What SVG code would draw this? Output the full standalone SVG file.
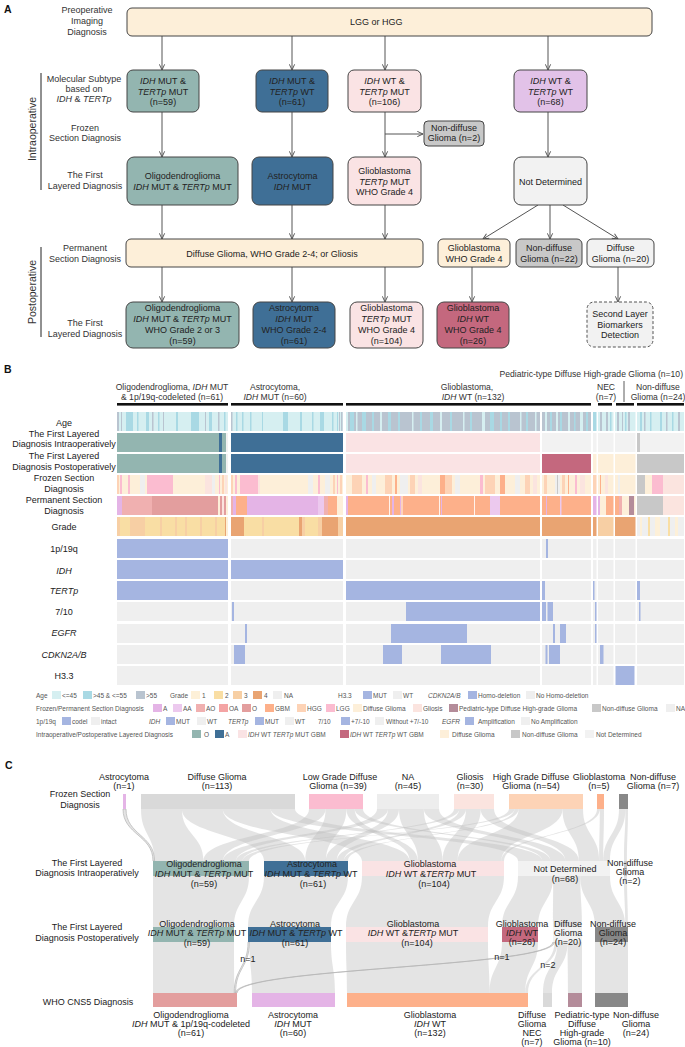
<svg xmlns="http://www.w3.org/2000/svg" width="685" height="1047" viewBox="0 0 685 1047">
<defs>
<style>
text{font-family:"Liberation Sans",Arial,sans-serif;font-size:9px;fill:#222}
.m{text-anchor:middle}
.pl{font-size:10.5px;font-weight:bold;fill:#111}
.lab{fill:#333}
.vl{font-size:10.5px;fill:#333}
.it{font-style:italic}
.bx{stroke:#444;stroke-width:1}
.ar{stroke:#555;stroke-width:1;fill:none;marker-end:url(#ah)}
.hd{font-size:8.6px;fill:#333}
.lg text{font-size:6.5px;fill:#555}
.flow path{fill:#bfbfbf;fill-opacity:0.42}
.flow path.thin{stroke:#b5b5b5;stroke-width:0.7}
.ag1{fill:#d6eff1}.ag2{fill:#a9d9e4}.ag3{fill:#b9c4d0}
.lo{fill:#93b5b0}.la{fill:#3f6f96}.lgb{fill:#fae3e4}.lw{fill:#c4687e}.ld{fill:#fdefd9}.ln{fill:#c8c8c8}.lx{fill:#f2f2f2}
.fA{fill:#e4b4e6}.fAA{fill:#ecc9ee}.fAO{fill:#f0b0b0}.fOA{fill:#f4a4a4}.fO{fill:#e39e9e}.fG{fill:#fdb08a}.fH{fill:#fdd3b6}.fL{fill:#fbbcd0}.fD{fill:#fdefd9}.fS{fill:#fbe4df}.fP{fill:#b48c9a}.fN{fill:#c8c8c8}.fX{fill:#efefef}
.g1{fill:#fdf0d8}.g2{fill:#f9dea4}.g3{fill:#f7cfa4}.g4{fill:#e9a472}.gx{fill:#efefef}
.b{fill:#a5b5e1}.e{fill:#efefef}
</style>
<marker id="ah" viewBox="0 0 8 8" refX="7.5" refY="4" markerWidth="7" markerHeight="7" markerUnits="userSpaceOnUse" orient="auto"><path d="M1,1 L7.5,4 L1,7" fill="none" stroke="#555" stroke-width="1.1"/></marker>
</defs>
<rect width="685" height="1047" fill="#fff"/>

<!-- ================= PANEL A ================= -->
<text class="pl" x="4" y="13">A</text>
<g id="a-left-labels" class="lab">
<text class="m lab" x="87" y="13">Preoperative</text>
<text class="m lab" x="87" y="24">Imaging</text>
<text class="m lab" x="87" y="35">Diagnosis</text>
<text class="m lab" x="84" y="82">Molecular Subtype</text>
<text class="m lab" x="84" y="92">based on</text>
<text class="m lab" x="84" y="102"><tspan class="it">IDH</tspan> &amp; <tspan class="it">TERTp</tspan></text>
<text class="m lab" x="85" y="131">Frozen</text>
<text class="m lab" x="85" y="141">Section Diagnosis</text>
<text class="m lab" x="85" y="178">The First</text>
<text class="m lab" x="85" y="189">Layered Diagnosis</text>
<text class="m lab" x="85" y="251">Permanent</text>
<text class="m lab" x="85" y="262">Section Diagnosis</text>
<text class="m lab" x="85" y="326">The First</text>
<text class="m lab" x="85" y="337">Layered Diagnosis</text>
<text class="m vl" transform="translate(36,129) rotate(-90)">Intraoperative</text>
<text class="m vl" transform="translate(36,292) rotate(-90)">Postoperative</text>
<line x1="41" y1="73" x2="41" y2="190" stroke="#222" stroke-width="1"/>
<line x1="41" y1="247" x2="41" y2="337" stroke="#222" stroke-width="1"/>
</g>

<g id="a-connectors">
<line class="ar" x1="162" y1="36" x2="162" y2="70"/>
<line class="ar" x1="292" y1="36" x2="292" y2="70"/>
<line class="ar" x1="385" y1="36" x2="385" y2="70"/>
<line class="ar" x1="548" y1="36" x2="548" y2="70"/>
<line class="ar" x1="162" y1="112" x2="162" y2="157"/>
<line class="ar" x1="292" y1="112" x2="292" y2="157"/>
<line class="ar" x1="385" y1="112" x2="385" y2="157"/>
<line class="ar" x1="548" y1="112" x2="548" y2="157"/>
<line class="ar" x1="385" y1="134" x2="423" y2="134"/>
<line class="ar" x1="162" y1="205" x2="162" y2="239"/>
<line class="ar" x1="292" y1="205" x2="292" y2="239"/>
<line class="ar" x1="385" y1="205" x2="385" y2="239"/>
<line class="ar" x1="538" y1="205" x2="483" y2="239"/>
<line class="ar" x1="550" y1="205" x2="550" y2="239"/>
<line class="ar" x1="563" y1="205" x2="618" y2="239"/>
<line class="ar" x1="162" y1="267" x2="162" y2="302"/>
<line class="ar" x1="292" y1="267" x2="292" y2="302"/>
<line class="ar" x1="385" y1="267" x2="385" y2="302"/>
<line class="ar" x1="472" y1="267" x2="472" y2="302"/>
<line class="ar" x1="618" y1="267" x2="618" y2="302"/>
</g>

<g id="a-preop"><rect class="bx" x="127" y="8" width="525" height="28" rx="5" fill="#fdefd9"/><text x="350" y="25">LGG or HGG</text></g>

<g id="a-sub1"><rect class="bx" x="127" y="70" width="72" height="42" rx="6" fill="#93b5b0"/>
<text class="m" x="163" y="84"><tspan class="it">IDH</tspan> MUT &amp;</text><text class="m" x="163" y="94.5"><tspan class="it">TERTp</tspan> MUT</text><text class="m" x="163" y="105">(n=59)</text></g>
<g id="a-sub2"><rect class="bx" x="256" y="70" width="72" height="42" rx="6" fill="#3f6f96"/>
<text class="m" x="292" y="84"><tspan class="it">IDH</tspan> MUT &amp;</text><text class="m" x="292" y="94.5"><tspan class="it">TERTp</tspan> WT</text><text class="m" x="292" y="105">(n=61)</text></g>
<g id="a-sub3"><rect class="bx" x="348" y="70" width="73" height="42" rx="6" fill="#fae3e4"/>
<text class="m" x="384.5" y="84"><tspan class="it">IDH</tspan> WT &amp;</text><text class="m" x="384.5" y="94.5"><tspan class="it">TERTp</tspan> MUT</text><text class="m" x="384.5" y="105">(n=106)</text></g>
<g id="a-sub4"><rect class="bx" x="514" y="70" width="73" height="42" rx="6" fill="#e2c2e8"/>
<text class="m" x="550.5" y="84"><tspan class="it">IDH</tspan> WT &amp;</text><text class="m" x="550.5" y="94.5"><tspan class="it">TERTp</tspan> WT</text><text class="m" x="550.5" y="105">(n=68)</text></g>

<g id="a-nondiff2"><rect class="bx" x="424" y="121" width="60" height="25" rx="4" fill="#c8c8c8"/>
<text class="m" x="454" y="131">Non-diffuse</text><text class="m" x="454" y="141">Glioma (n=2)</text></g>

<g id="a-l1-oligo"><rect class="bx" x="127" y="157" width="111" height="48" rx="7" fill="#93b5b0"/>
<text class="m" x="182.5" y="179">Oligodendroglioma</text><text class="m" x="182.5" y="190"><tspan class="it">IDH</tspan> MUT &amp; <tspan class="it">TERTp</tspan> MUT</text></g>
<g id="a-l1-astro"><rect class="bx" x="252" y="157" width="81" height="48" rx="7" fill="#3f6f96"/>
<text class="m" x="292.5" y="179">Astrocytoma</text><text class="m" x="292.5" y="190"><tspan class="it">IDH</tspan> MUT</text></g>
<g id="a-l1-gbm"><rect class="bx" x="348" y="157" width="73" height="48" rx="7" fill="#fae3e4"/>
<text class="m" x="384.5" y="174">Glioblastoma</text><text class="m" x="384.5" y="184.5"><tspan class="it">TERTp</tspan> MUT</text><text class="m" x="384.5" y="195">WHO Grade 4</text></g>
<g id="a-l1-nd"><rect class="bx" x="514" y="157" width="73" height="48" rx="7" fill="#f2f2f2"/>
<text class="m" x="550.5" y="185">Not Determined</text></g>

<g id="a-perm"><rect class="bx" x="126" y="239" width="297" height="28" rx="5" fill="#fdefd9"/>
<text class="m" x="272" y="257">Diffuse Glioma, WHO Grade 2-4; or Gliosis</text></g>
<g id="a-perm-gbm"><rect class="bx" x="438" y="239" width="72" height="28" rx="5" fill="#fdefd9"/>
<text class="m" x="474" y="251">Glioblastoma</text><text class="m" x="474" y="262">WHO Grade 4</text></g>
<g id="a-perm-nondiff"><rect class="bx" x="516" y="239" width="66" height="28" rx="5" fill="#c8c8c8"/>
<text class="m" x="549" y="251">Non-diffuse</text><text class="m" x="549" y="262">Glioma (n=22)</text></g>
<g id="a-perm-diff"><rect class="bx" x="587" y="239" width="67" height="28" rx="5" fill="#f2f2f2"/>
<text class="m" x="620.5" y="251">Diffuse</text><text class="m" x="620.5" y="262">Glioma (n=20)</text></g>

<g id="a-post-oligo"><rect class="bx" x="126" y="302" width="113" height="46" rx="7" fill="#93b5b0"/>
<text class="m" x="182.5" y="311">Oligodendroglioma</text><text class="m" x="182.5" y="322"><tspan class="it">IDH</tspan> MUT &amp; <tspan class="it">TERTp</tspan> MUT</text><text class="m" x="182.5" y="333">WHO Grade 2 or 3</text><text class="m" x="182.5" y="344">(n=59)</text></g>
<g id="a-post-astro"><rect class="bx" x="253" y="302" width="82" height="46" rx="7" fill="#3f6f96"/>
<text class="m" x="294" y="311">Astrocytoma</text><text class="m" x="294" y="322"><tspan class="it">IDH</tspan> MUT</text><text class="m" x="294" y="333">WHO Grade 2-4</text><text class="m" x="294" y="344">(n=61)</text></g>
<g id="a-post-gbm"><rect class="bx" x="350" y="302" width="73" height="46" rx="7" fill="#fae3e4"/>
<text class="m" x="386.5" y="311">Glioblastoma</text><text class="m" x="386.5" y="322"><tspan class="it">TERTp</tspan> MUT</text><text class="m" x="386.5" y="333">WHO Grade 4</text><text class="m" x="386.5" y="344">(n=104)</text></g>
<g id="a-post-gbmwt"><rect class="bx" x="437" y="302" width="72" height="46" rx="7" fill="#c4687e"/>
<text class="m" x="473" y="311">Glioblastoma</text><text class="m" x="473" y="322"><tspan class="it">IDH</tspan> WT</text><text class="m" x="473" y="333">WHO Grade 4</text><text class="m" x="473" y="344">(n=26)</text></g>
<g id="a-second"><rect x="587" y="302" width="66" height="45" rx="7" fill="#f2f2f2" stroke="#555" stroke-dasharray="3,2"/>
<text class="m" x="620" y="317">Second Layer</text><text class="m" x="620" y="328">Biomarkers</text><text class="m" x="620" y="338">Detection</text></g>

<!-- ================= PANEL B ================= -->
<text class="pl" x="4" y="373">B</text>
<g id="b-headers">
<text class="hd" x="683" y="377" text-anchor="end">Pediatric-type Diffuse High-grade Glioma (n=10)</text>
<text class="hd m" x="172" y="390">Oligodendroglioma, <tspan class="it">IDH</tspan> MUT</text>
<text class="hd m" x="172" y="399.5">&amp; 1p/19q-codeleted  (n=61)</text>
<text class="hd m" x="275" y="390">Astrocytoma,</text>
<text class="hd m" x="275" y="399.5"><tspan class="it">IDH</tspan> MUT (n=60)</text>
<text class="hd m" x="467" y="390">Glioblastoma,</text>
<text class="hd m" x="473" y="399.5"><tspan class="it">IDH</tspan> WT (n=132)</text>
<text class="hd m" x="606" y="390">NEC</text>
<text class="hd m" x="606" y="399.5">(n=7)</text>
<text class="hd m" x="658" y="390">Non-diffuse</text>
<text class="hd m" x="658" y="399.5">Glioma (n=24)</text>
<line x1="624" y1="381" x2="624" y2="402" stroke="#333" stroke-width="0.8"/>
<g fill="#111">
<rect x="117" y="403" width="111" height="2.6"/><rect x="231" y="403" width="112" height="2.6"/><rect x="346" y="403" width="245" height="2.6"/><rect x="598" y="403" width="14" height="2.6"/><rect x="616" y="403" width="18" height="2.6"/><rect x="637" y="403" width="47" height="2.6"/>
</g>
</g>

<g id="b-rowlabels">
<text class="m" x="64" y="426">Age</text>
<text class="m" x="64" y="437">The First Layered</text>
<text class="m" x="64" y="447">Diagnosis Intraoperatively</text>
<text class="m" x="64" y="458.5">The First Layered</text>
<text class="m" x="64" y="469.5">Diagnosis Postoperatively</text>
<text class="m" x="64" y="481">Frozen Section</text>
<text class="m" x="64" y="492">Diagnosis</text>
<text class="m" x="64" y="502.5">Permanent Section</text>
<text class="m" x="64" y="513.5">Diagnosis</text>
<text class="m" x="64" y="530">Grade</text>
<text class="m" x="64" y="552">1p/19q</text>
<text class="m it" x="64" y="574">IDH</text>
<text class="m it" x="64" y="593.5">TERTp</text>
<text class="m" x="64" y="614.5">7/10</text>
<text class="m it" x="64" y="635.5">EGFR</text>
<text class="m it" x="64" y="657.5">CDKN2A/B</text>
<text class="m" x="64" y="678.5">H3.3</text>
</g>

<g id="b-heatmap">
<!-- Age -->
<g transform="translate(0,412)">
<rect class="ag1" x="117" width="111" height="19"/><rect class="ag1" x="231" width="112" height="19"/><rect class="ag3" x="346" width="194" height="19"/><rect class="ag3" x="542" width="49" height="19"/><rect class="ag2" x="593" width="3.5" height="19"/><rect class="ag1" x="598" width="15.5" height="19"/><rect class="ag1" x="615" width="20.5" height="19"/><rect class="ag1" x="637" width="47" height="19"/>
<g class="ag3"><rect x="117" width="2" height="19"/><rect x="121" width="1" height="19"/><rect x="152" width="1.5" height="19"/><rect x="163" width="1" height="19"/><rect x="205" width="1" height="19"/><rect x="218" width="1.5" height="19"/><rect x="231" width="1.5" height="19"/><rect x="339" width="1" height="19"/><rect x="341" width="1.5" height="19"/><rect x="600" width="2" height="19"/><rect x="606" width="2" height="19"/><rect x="617" width="2" height="19"/><rect x="622" width="1" height="19"/><rect x="628" width="2" height="19"/><rect x="644" width="1.5" height="19"/><rect x="666" width="1.5" height="19"/><rect x="678" width="2" height="19"/></g>
<g class="ag2"><rect x="126" width="7" height="19"/><rect x="137" width="1.5" height="19"/><rect x="146" width="3" height="19"/><rect x="158" width="1.5" height="19"/><rect x="176" width="2" height="19"/><rect x="191" width="8" height="19"/><rect x="209" width="3" height="19"/><rect x="224" width="1.5" height="19"/><rect x="236" width="1.5" height="19"/><rect x="242" width="1.5" height="19"/><rect x="250" width="1.5" height="19"/><rect x="262" width="1" height="19"/><rect x="283" width="5" height="19"/><rect x="300" width="2" height="19"/><rect x="312" width="1.5" height="19"/><rect x="320" width="4" height="19"/><rect x="332" width="1.5" height="19"/><rect x="337" width="1" height="19"/><rect x="350" width="4" height="19"/><rect x="362" width="4" height="19"/><rect x="372" width="2" height="19"/><rect x="388" width="3" height="19"/><rect x="398" width="2" height="19"/><rect x="420" width="2" height="19"/><rect x="430" width="3" height="19"/><rect x="450" width="2" height="19"/><rect x="470" width="2" height="19"/><rect x="490" width="4" height="19"/><rect x="500" width="2" height="19"/><rect x="508" width="2" height="19"/><rect x="526" width="2" height="19"/><rect x="550" width="2" height="19"/><rect x="560" width="2" height="19"/><rect x="574" width="1.5" height="19"/><rect x="586" width="2" height="19"/><rect x="610" width="1.5" height="19"/><rect x="625" width="1.5" height="19"/><rect x="640" width="2" height="19"/><rect x="650" width="1.5" height="19"/><rect x="660" width="2" height="19"/><rect x="672" width="1.5" height="19"/></g>
<g class="ag1"><rect x="346" width="2" height="19"/><rect x="356" width="1.5" height="19"/><rect x="380" width="2" height="19"/><rect x="412" width="1.5" height="19"/><rect x="440" width="2" height="19"/><rect x="463" width="1.5" height="19"/><rect x="482" width="3" height="19"/><rect x="520" width="1.5" height="19"/><rect x="535" width="1.5" height="19"/><rect x="545" width="2" height="19"/><rect x="556" width="2" height="19"/><rect x="568" width="2" height="19"/><rect x="580" width="3" height="19"/></g>
</g>
<!-- Intraoperative -->
<g transform="translate(0,433)">
<rect class="lo" x="117" width="102" height="19"/><rect class="la" x="219" width="3" height="19"/><rect class="lo" x="222" width="4" height="19"/><rect class="lx" x="226" width="2" height="19"/>
<rect class="la" x="231" width="112" height="19"/><rect class="lgb" x="346" width="194" height="19"/><rect class="lx" x="542" width="49" height="19"/><rect class="lx" x="593" width="3.5" height="19"/><rect class="lx" x="598" width="15.5" height="19"/><rect class="lx" x="615" width="20.5" height="19"/><rect class="ln" x="637" width="3" height="19"/><rect class="lx" x="640" width="44" height="19"/>
</g>
<!-- Postoperative -->
<g transform="translate(0,454)">
<rect class="lo" x="117" width="102" height="19"/><rect class="la" x="219" width="3" height="19"/><rect class="lo" x="222" width="4" height="19"/><rect class="lx" x="226" width="2" height="19"/>
<rect class="la" x="231" width="112" height="19"/><rect class="lgb" x="346" width="194" height="19"/><rect class="lw" x="542" width="49" height="19"/><rect class="ld" x="593" width="3.5" height="19"/><rect class="ld" x="598" width="15.5" height="19"/><rect class="ld" x="615" width="20.5" height="19"/><rect class="ln" x="637" width="47" height="19"/>
</g>
<!-- Frozen -->
<g transform="translate(0,475)">
<rect class="fD" x="117" width="111" height="19"/><rect class="fD" x="231" width="112" height="19"/><rect class="fD" x="346" width="194" height="19"/><rect class="fD" x="542" width="49" height="19"/><rect class="fH" x="593" width="3.5" height="19"/><rect class="fD" x="598" width="15.5" height="19"/><rect class="fD" x="615" width="20.5" height="19"/>
<rect class="fN" x="637" width="8" height="19"/><rect class="fD" x="645" width="7" height="19"/><rect class="fL" x="652" width="11" height="19"/><rect class="fS" x="663" width="21" height="19"/>
<g class="fH"><rect x="117" width="2" height="19"/><rect x="222" width="2" height="19"/><rect x="231" width="2" height="19"/><rect x="333" width="2" height="19"/><rect x="340" width="2" height="19"/><rect x="352" width="10" height="19"/><rect x="385" width="7" height="19"/><rect x="410" width="5" height="19"/><rect x="445" width="7" height="19"/><rect x="485" width="10" height="19"/><rect x="525" width="5" height="19"/><rect x="544" width="3" height="19"/><rect x="562" width="3" height="19"/></g>
<g class="fL"><rect x="120" width="2" height="19"/><rect x="128" width="2" height="19"/><rect x="147" width="26" height="19"/><rect x="219" width="1" height="19"/><rect x="235" width="2" height="19"/><rect x="240" width="18" height="19"/><rect x="318" width="2" height="19"/><rect x="337" width="1" height="19"/><rect x="366" width="2" height="19"/><rect x="480" width="3" height="19"/><rect x="575" width="2" height="19"/></g>
<g class="fX"><rect x="140" width="5" height="19"/><rect x="212" width="3" height="19"/><rect x="308" width="5" height="19"/><rect x="325" width="5" height="19"/><rect x="372" width="4" height="19"/><rect x="400" width="8" height="19"/><rect x="455" width="5" height="19"/><rect x="515" width="5" height="19"/><rect x="555" width="5" height="19"/><rect x="618" width="2" height="19"/></g>
<g class="fS"><rect x="205" width="7" height="19"/><rect x="225" width="2" height="19"/><rect x="258" width="2" height="19"/><rect x="418" width="4" height="19"/><rect x="533" width="4" height="19"/><rect x="580" width="5" height="19"/><rect x="605" width="3" height="19"/></g>
<g class="fG"><rect x="395" width="2" height="19"/><rect x="440" width="5" height="19"/><rect x="500" width="5" height="19"/><rect x="568" width="1" height="19"/><rect x="600" width="1" height="19"/></g>
<rect class="fN" x="557" width="1" height="19"/>
</g>
<!-- Permanent -->
<g transform="translate(0,496)">
<rect class="fA" x="117" width="5" height="19"/><rect class="fAO" x="122" width="30" height="19"/><rect class="fO" x="152" width="66" height="19"/><rect class="fD" x="218" width="2" height="19"/><rect class="fO" x="220" width="2" height="19"/><rect class="fS" x="222" width="2" height="19"/><rect class="fO" x="224" width="2" height="19"/><rect class="fD" x="226" width="2" height="19"/>
<rect class="fAO" x="231" width="2" height="19"/><rect class="fA" x="233" width="3" height="19"/><rect class="fG" x="236" width="11" height="19"/><rect class="fA" x="247" width="71" height="19"/><rect class="fAA" x="318" width="6" height="19"/><rect class="fAO" x="324" width="4" height="19"/><rect class="fG" x="328" width="9" height="19"/><rect class="fD" x="337" width="6" height="19"/>
<rect class="fG" x="346" width="194" height="19"/><rect class="fA" x="346" width="2" height="19"/><rect class="fA" x="392" width="2" height="19"/><rect class="fA" x="400" width="1" height="19"/><rect class="fA" x="441" width="1" height="19"/><rect class="fAA" x="490" width="10" height="19"/>
<g fill="#fff3ec"><rect x="389" width="1" height="19"/><rect x="401.5" width="1" height="19"/><rect x="439" width="1" height="19"/><rect x="474" width="1" height="19"/></g>
<rect class="fG" x="542" width="49" height="19"/><rect class="fA" x="546" width="1" height="19"/><rect class="fAA" x="560" width="1.5" height="19"/>
<rect class="fA" x="593" width="3.5" height="19"/>
<rect class="fA" x="598" width="2" height="19"/><rect class="fD" x="600" width="6" height="19"/><rect class="fG" x="606" width="7.5" height="19"/>
<rect class="fG" x="615" width="4" height="19"/><rect class="fAO" x="619" width="3" height="19"/><rect class="fD" x="622" width="7" height="19"/><rect class="fP" x="629" width="5" height="19"/><rect class="fD" x="634" width="1.5" height="19"/>
<rect class="fN" x="637" width="26" height="19"/><rect class="fS" x="663" width="21" height="19"/>
</g>
<!-- Grade -->
<g transform="translate(0,517)">
<rect class="g2" x="117" width="111" height="19"/>
<g class="g3"><rect x="117" width="3" height="19"/><rect x="130" width="15" height="19"/><rect x="160" width="2" height="19"/><rect x="175" width="2" height="19"/><rect x="185" width="2" height="19"/><rect x="200" width="2" height="19"/><rect x="215" width="2" height="19"/></g>
<rect class="g4" x="225" width="1" height="19"/><rect class="g1" x="226" width="2" height="19"/>
<rect class="g4" x="231" width="13" height="19"/><rect class="g2" x="244" width="18" height="19"/><rect class="g3" x="262" width="2" height="19"/><rect class="g2" x="264" width="35" height="19"/><rect class="g4" x="299" width="3" height="19"/><rect class="g3" x="302" width="3" height="19"/><rect class="g2" x="305" width="13" height="19"/><rect class="g3" x="318" width="4" height="19"/><rect class="g4" x="322" width="16" height="19"/><rect class="g3" x="338" width="5" height="19"/>
<rect class="g4" x="346" width="194" height="19"/><rect class="g4" x="542" width="49" height="19"/><rect class="g4" x="593" width="3.5" height="19"/><rect class="g3" x="598" width="15.5" height="19"/><rect class="g4" x="615" width="20.5" height="19"/>
<rect class="gx" x="637" width="47" height="19"/><rect class="g1" x="640" width="2" height="19"/><rect class="g2" x="648" width="2" height="19"/><rect class="g1" x="655" width="5" height="19"/><rect class="g2" x="668" width="2" height="19"/><rect class="g1" x="675" width="3" height="19"/>
</g>
<!-- 1p/19q -->
<g transform="translate(0,539)">
<rect class="b" x="117" width="111" height="19"/><rect class="e" x="231" width="112" height="19"/><rect class="e" x="346" width="194" height="19"/><rect class="e" x="542" width="49" height="19"/><rect class="b" x="546" width="2" height="19"/><rect class="e" x="593" width="3.5" height="19"/><rect class="e" x="598" width="15.5" height="19"/><rect class="e" x="615" width="20.5" height="19"/><rect class="e" x="637" width="47" height="19"/>
</g>
<!-- IDH -->
<g transform="translate(0,560)">
<rect class="b" x="117" width="111" height="19"/><rect class="b" x="231" width="112" height="19"/><rect class="e" x="346" width="194" height="19"/><rect class="e" x="542" width="49" height="19"/><rect class="e" x="593" width="3.5" height="19"/><rect class="e" x="598" width="15.5" height="19"/><rect class="e" x="615" width="20.5" height="19"/><rect class="e" x="637" width="47" height="19"/>
</g>
<!-- TERTp -->
<g transform="translate(0,581)">
<rect class="b" x="117" width="111" height="19"/><rect class="e" x="231" width="112" height="19"/><rect class="b" x="346" width="194" height="19"/><rect class="e" x="542" width="49" height="19"/><rect class="b" x="542" width="3" height="19"/><rect class="e" x="593" width="3.5" height="19"/><rect class="b" x="593" width="1.5" height="19"/><rect class="e" x="598" width="15.5" height="19"/><rect class="e" x="615" width="20.5" height="19"/><rect class="e" x="637" width="47" height="19"/><rect class="b" x="637" width="3" height="19"/>
</g>
<!-- 7/10 -->
<g transform="translate(0,602)">
<rect class="e" x="117" width="111" height="19"/><rect class="e" x="231" width="112" height="19"/><rect class="b" x="232" width="2" height="19"/><rect class="e" x="346" width="194" height="19"/><rect class="b" x="406" width="134" height="19"/><rect class="e" x="542" width="49" height="19"/><rect class="b" x="542" width="4" height="19"/><rect class="b" x="547.5" width="5.5" height="19"/><rect class="e" x="593" width="3.5" height="19"/><rect class="b" x="595" width="1.5" height="19"/><rect class="e" x="598" width="15.5" height="19"/><rect class="e" x="615" width="20.5" height="19"/><rect class="e" x="637" width="47" height="19"/><rect class="b" x="639" width="1.5" height="19"/>
</g>
<!-- EGFR -->
<g transform="translate(0,624)">
<rect class="e" x="117" width="111" height="19"/><rect class="e" x="231" width="112" height="19"/><rect class="b" x="245" width="2" height="19"/><rect class="e" x="346" width="194" height="19"/><rect class="b" x="391" width="76" height="19"/><rect class="e" x="542" width="49" height="19"/><rect class="b" x="553" width="2" height="19"/><rect class="b" x="560" width="6" height="19"/><rect class="e" x="593" width="3.5" height="19"/><rect class="b" x="595" width="1.5" height="19"/><rect class="e" x="598" width="15.5" height="19"/><rect class="e" x="615" width="20.5" height="19"/><rect class="e" x="637" width="47" height="19"/>
</g>
<!-- CDKN2A/B -->
<g transform="translate(0,645)">
<rect class="e" x="117" width="111" height="19"/><rect class="e" x="231" width="112" height="19"/><rect class="b" x="234" width="11" height="19"/><rect class="e" x="346" width="194" height="19"/><rect class="b" x="383" width="19" height="19"/><rect class="b" x="441" width="50" height="19"/><rect class="e" x="542" width="49" height="19"/><rect class="b" x="545.5" width="2" height="19"/><rect class="b" x="549" width="11" height="19"/><rect class="e" x="593" width="3.5" height="19"/><rect class="e" x="598" width="15.5" height="19"/><rect class="b" x="600" width="3.5" height="19"/><rect class="e" x="615" width="20.5" height="19"/><rect class="e" x="637" width="47" height="19"/>
</g>
<!-- H3.3 -->
<g transform="translate(0,666)">
<rect class="e" x="117" width="111" height="19"/><rect class="e" x="231" width="112" height="19"/><rect class="e" x="346" width="194" height="19"/><rect class="e" x="542" width="49" height="19"/><rect class="e" x="593" width="3.5" height="19"/><rect class="e" x="598" width="15.5" height="19"/><rect class="b" x="615.5" width="19" height="19"/><rect class="e" x="637" width="47" height="19"/>
</g>
</g>

<g id="b-legend" class="lg">
<!-- row 1 -->
<g transform="translate(0,691)">
<text x="36" y="6.5">Age</text><rect class="ag1" x="52" width="9" height="8"/><text x="62" y="6.5">&lt;=45</text><rect class="ag2" x="83" width="9" height="8"/><text x="93" y="6.5">&gt;45 &amp; &lt;=55</text><rect class="ag3" x="136" width="9" height="8"/><text x="146" y="6.5">&gt;55</text>
<text x="170" y="6.5">Grade</text><rect class="g1" x="191" width="9" height="8"/><text x="202" y="6.5">1</text><rect class="g2" x="214" width="9" height="8"/><text x="225" y="6.5">2</text><rect class="g3" x="233" width="9" height="8"/><text x="244" y="6.5">3</text><rect class="g4" x="253" width="9" height="8"/><text x="264" y="6.5">4</text><rect class="gx" x="273" width="9" height="8"/><text x="284" y="6.5">NA</text>
<text x="338" y="6.5">H3.3</text><rect class="b" x="363" width="9" height="8"/><text x="373" y="6.5">MUT</text><rect class="e" x="393" width="9" height="8"/><text x="403" y="6.5">WT</text>
<text class="it" x="428" y="6.5">CDKN2A/B</text><rect class="b" x="468" width="9" height="8"/><text x="478" y="6.5">Homo-deletion</text><rect class="e" x="526" width="9" height="8"/><text x="536" y="6.5">No Homo-deletion</text>
</g>
<!-- row 2 -->
<g transform="translate(0,704)">
<text x="36" y="6.5">Frozen/Permanent Section Diagnosis</text>
<rect class="fA" x="153" width="9" height="8"/><text x="163" y="6.5">A</text>
<rect class="fAA" x="173" width="9" height="8"/><text x="183" y="6.5">AA</text>
<rect class="fAO" x="196" width="9" height="8"/><text x="206" y="6.5">AO</text>
<rect class="fOA" x="219" width="9" height="8"/><text x="229" y="6.5">OA</text>
<rect class="fO" x="242" width="9" height="8"/><text x="252" y="6.5">O</text>
<rect class="fG" x="265" width="9" height="8"/><text x="275" y="6.5">GBM</text>
<rect class="fH" x="297" width="9" height="8"/><text x="307" y="6.5">HGG</text>
<rect class="fL" x="326" width="9" height="8"/><text x="336" y="6.5">LGG</text>
<rect class="fD" x="353" width="9" height="8"/><text x="363" y="6.5">Diffuse Glioma</text>
<rect class="fS" x="413" width="9" height="8"/><text x="423" y="6.5">Gliosis</text>
<rect class="fP" x="449" width="9" height="8"/><text x="459" y="6.5">Pediatric-type Diffuse High-grade Glioma</text>
<rect class="fN" x="592" width="9" height="8"/><text x="602" y="6.5">Non-diffuse Glioma</text>
<rect class="fX" x="666" width="9" height="8"/><text x="676" y="6.5">NA</text>
</g>
<!-- row 3 -->
<g transform="translate(0,717)">
<text x="36" y="6.5">1p/19q</text><rect class="b" x="62" width="9" height="8"/><text x="72" y="6.5">codel</text><rect class="e" x="91" width="9" height="8"/><text x="101" y="6.5">intact</text>
<text class="it" x="149" y="6.5">IDH</text><rect class="b" x="166" width="9" height="8"/><text x="176" y="6.5">MUT</text><rect class="e" x="197" width="9" height="8"/><text x="207" y="6.5">WT</text>
<text class="it" x="228" y="6.5">TERTp</text><rect class="b" x="255" width="9" height="8"/><text x="265" y="6.5">MUT</text><rect class="e" x="285" width="9" height="8"/><text x="295" y="6.5">WT</text>
<text x="318" y="6.5">7/10</text><rect class="b" x="341" width="9" height="8"/><text x="351" y="6.5">+7/-10</text><rect class="e" x="375" width="9" height="8"/><text x="386" y="6.5">Without +7/-10</text>
<text class="it" x="442" y="6.5">EGFR</text><rect class="b" x="465" width="9" height="8"/><text x="478" y="6.5">Amplification</text><rect class="e" x="521" width="9" height="8"/><text x="531" y="6.5">No Amplification</text>
</g>
<!-- row 4 -->
<g transform="translate(0,730)">
<text x="36" y="6.5">Intraoperative/Postoperative Layered Diagnosis</text>
<rect class="lo" x="192" width="9" height="8"/><text x="204" y="6.5">O</text>
<rect class="la" x="215" width="9" height="8"/><text x="225" y="6.5">A</text>
<rect class="lgb" x="238" width="9" height="8"/><text x="248" y="6.5"><tspan class="it">IDH</tspan> WT <tspan class="it">TERTp</tspan> MUT GBM</text>
<rect class="lw" x="340" width="9" height="8"/><text x="350" y="6.5"><tspan class="it">IDH</tspan> WT <tspan class="it">TERTp</tspan> WT GBM</text>
<rect class="ld" x="440" width="9" height="8"/><text x="452" y="6.5">Diffuse Glioma</text>
<rect class="ln" x="511" width="9" height="8"/><text x="522" y="6.5">Non-diffuse Glioma</text>
<rect class="lx" x="585" width="9" height="8"/><text x="596" y="6.5">Not Determined</text>
</g>
</g>

<!-- ================= PANEL C ================= -->
<text class="pl" x="5" y="769">C</text>
<g id="c-rowlabels">
<text class="m" x="80" y="797">Frozen Section</text>
<text class="m" x="80" y="807.5">Diagnosis</text>
<text class="m" x="87" y="865.5">The First Layered</text>
<text class="m" x="87" y="876">Diagnosis Intraoperatively</text>
<text class="m" x="87" y="930">The First Layered</text>
<text class="m" x="87" y="941">Diagnosis Postoperatively</text>
<text class="m" x="88" y="1005">WHO CNS5 Diagnosis</text>
</g>

<g id="c-flows" class="flow">
<path d="M123,809C123,835 153,835 153,861L154.6,861C154.6,835 126,835 126,809Z" class="thin"/>
<path d="M141,809C141,835 154.6,835 154.6,861L203.4,861C203.4,835 181.9,835 181.9,809Z"/>
<path d="M181.9,809C181.9,835 264,835 264,861L305.3,861C305.3,835 222.8,835 222.8,809Z"/>
<path d="M222.8,809C222.8,835 362,835 362,861L409.8,861C409.8,835 270.5,835 270.5,809Z"/>
<path d="M270.5,809C270.5,835 518,835 518,861L542.4,861C542.4,835 295,835 295,809Z"/>
<path d="M309,809C309,835 203.4,835 203.4,861L223,861C223,835 325.6,835 325.6,809Z"/>
<path d="M325.6,809C325.6,835 305.3,835 305.3,861L326,861C326,835 346.4,835 346.4,809Z"/>
<path d="M346.4,809C346.4,835 409.8,835 409.8,861L418,861C418,835 354.7,835 354.7,809Z"/>
<path d="M354.7,809C354.7,835 542.4,835 542.4,861L550.5,861C550.5,835 363,835 363,809Z"/>
<path d="M377,809C377,835 223,835 223,861L236,861C236,835 388,835 388,809Z"/>
<path d="M388,809C388,835 326,835 326,861L337,861C337,835 399,835 399,809Z"/>
<path d="M399,809C399,835 418,835 418,861L442.6,861C442.6,835 423.8,835 423.8,809Z"/>
<path d="M423.8,809C423.8,835 550.5,835 550.5,861L565.4,861C565.4,835 439,835 439,809Z"/>
<path d="M454,809C454,835 236,835 236,861L242.5,861C242.5,835 459.3,835 459.3,809Z"/>
<path d="M459.3,809C459.3,835 337,835 337,861L343.9,861C343.9,835 466,835 466,809Z"/>
<path d="M466,809C466,835 442.6,835 442.6,861L457.6,861C457.6,835 480.7,835 480.7,809Z"/>
<path d="M480.7,809C480.7,835 565.4,835 565.4,861L578.9,861C578.9,835 494,835 494,809Z"/>
<path d="M509,809C509,835 242.5,835 242.5,861L249,861C249,835 514.5,835 514.5,809Z"/>
<path d="M514.5,809C514.5,835 343.9,835 343.9,861L348,861C348,835 518.6,835 518.6,809Z"/>
<path d="M518.6,809C518.6,835 457.6,835 457.6,861L501.3,861C501.3,835 562.5,835 562.5,809Z"/>
<path d="M562.5,809C562.5,835 578.9,835 578.9,861L599.2,861C599.2,835 583,835 583,809Z"/>
<path d="M597,809C597,835 501.3,835 501.3,861L504,861C504,835 599.8,835 599.8,809Z"/>
<path d="M599.8,809C599.8,835 599.2,835 599.2,861L603.3,861C603.3,835 604,835 604,809Z"/>
<path d="M619,809C619,835 603.3,835 603.3,861L610,861C610,835 625.4,835 625.4,809Z"/>
<path d="M625.4,809C625.4,835 624,835 624,861L627,861C627,835 628,835 628,809Z"/>
<path d="M153,876C153,901.5 153,901.5 153,927L234,927C234,901.5 249,901.5 249,876Z"/>
<path d="M264,876C264,901.5 248,901.5 248,927L331,927C331,901.5 348,901.5 348,876Z"/>
<path d="M362,876C362,901.5 346,901.5 346,927L488,927C488,901.5 504,901.5 504,876Z"/>
<path d="M518,876C518,901.5 502,901.5 502,927L538,927C538,901.5 553.2,901.5 553.2,876Z"/>
<path d="M553.2,876C553.2,901.5 553,901.5 553,927L582,927C582,901.5 580.3,901.5 580.3,876Z"/>
<path d="M580.3,876C580.3,901.5 595,901.5 595,927L625.3,927C625.3,901.5 610,901.5 610,876Z"/>
<path d="M624,876C624,901.5 625.3,901.5 625.3,927L628,927C628,901.5 627,901.5 627,876Z"/>
<path d="M153,942C153,967.5 153,967.5 153,993L234.2,993C234.2,967.5 234,967.5 234,942Z"/>
<path d="M248,942C248,967.5 234.2,967.5 234.2,993L235.6,993C235.6,967.5 249.4,967.5 249.4,942Z" class="thin"/>
<path d="M249.4,942C249.4,967.5 252,967.5 252,993L335,993C335,967.5 331,967.5 331,942Z"/>
<path d="M346,942C346,967.5 347,967.5 347,993L489.6,993C489.6,967.5 488,967.5 488,942Z"/>
<path d="M502,942C502,967.5 489.6,967.5 489.6,993L525.3,993C525.3,967.5 538,967.5 538,942Z"/>
<path d="M553,942C553,967.5 235.6,967.5 235.6,993L237,993C237,967.5 554.5,967.5 554.5,942Z" class="thin"/>
<path d="M554.5,942C554.5,967.5 525.3,967.5 525.3,993L528,993C528,967.5 557.4,967.5 557.4,942Z"/>
<path d="M557.4,942C557.4,967.5 543,967.5 543,993L552,993C552,967.5 567.6,967.5 567.6,942Z"/>
<path d="M567.6,942C567.6,967.5 568,967.5 568,993L582,993C582,967.5 582,967.5 582,942Z"/>
<path d="M595,942C595,967.5 595,967.5 595,993L628,993C628,967.5 628,967.5 628,942Z"/>
</g>

<!-- row 1 nodes -->
<g id="c-fz-astro"><rect x="123" y="794" width="3" height="15" fill="#e4b4e6"/><text class="m" x="124" y="780">Astrocytoma</text><text class="m" x="124" y="789">(n=1)</text></g>
<g id="c-fz-diffuse"><rect x="141" y="794" width="154" height="15" fill="#d9d9d9"/><text class="m" x="217" y="780">Diffuse Glioma</text><text class="m" x="217" y="789">(n=113)</text></g>
<g id="c-fz-lgg"><rect x="309" y="794" width="54" height="15" fill="#fbbcd0"/><text class="m" x="340" y="780">Low Grade Diffuse</text><text class="m" x="338" y="789">Glioma (n=39)</text></g>
<g id="c-fz-na"><rect x="377" y="794" width="62" height="15" fill="#ededed"/><text class="m" x="408" y="780">NA</text><text class="m" x="408" y="789">(n=45)</text></g>
<g id="c-fz-gliosis"><rect x="454" y="794" width="40" height="15" fill="#fbe4df"/><text class="m" x="470" y="780">Gliosis</text><text class="m" x="470" y="789">(n=30)</text></g>
<g id="c-fz-hgg"><rect x="509" y="794" width="74" height="15" fill="#fdd3b6"/><text class="m" x="531" y="780">High Grade Diffuse</text><text class="m" x="531" y="789">Glioma (n=54)</text></g>
<g id="c-fz-gbm"><rect x="597" y="794" width="7" height="15" fill="#fdb08a"/><text class="m" x="599" y="780">Glioblastoma</text><text class="m" x="599" y="789">(n=5)</text></g>
<g id="c-fz-nondiff"><rect x="619" y="794" width="9" height="15" fill="#888"/><text class="m" x="653" y="780">Non-diffuse</text><text class="m" x="653" y="789">Glioma (n=7)</text></g>

<!-- row 2 nodes -->
<g id="c-in-oligo"><rect x="153" y="861" width="96" height="15" fill="#93b5b0"/><text class="m" x="204" y="867">Oligodendroglioma</text><text class="m" x="204" y="876.5"><tspan class="it">IDH</tspan> MUT &amp; <tspan class="it">TERTp</tspan> MUT</text><text class="m" x="204" y="887">(n=59)</text></g>
<g id="c-in-astro"><rect x="264" y="861" width="84" height="15" fill="#3f6f96"/><text class="m" x="312" y="867">Astrocytoma</text><text class="m" x="311" y="876.5"><tspan class="it">IDH</tspan> MUT &amp; <tspan class="it">TERTp</tspan> WT</text><text class="m" x="313" y="887">(n=61)</text></g>
<g id="c-in-gbm"><rect x="362" y="861" width="142" height="15" fill="#fae3e4"/><text class="m" x="430" y="867">Glioblastoma</text><text class="m" x="431" y="876.5"><tspan class="it">IDH</tspan> WT &amp;<tspan class="it">TERTp</tspan> MUT</text><text class="m" x="434" y="887">(n=104)</text></g>
<g id="c-in-nd"><rect x="518" y="861" width="92" height="15" fill="#f2f2f2"/><text class="m" x="565" y="872">Not Determined</text><text class="m" x="565" y="882">(n=68)</text></g>
<g id="c-in-nondiff"><rect x="624" y="861" width="3" height="15" fill="#c8c8c8"/><text class="m" x="630" y="866">Non-diffuse</text><text class="m" x="630" y="875">Glioma</text><text class="m" x="630" y="884">(n=2)</text></g>

<!-- row 3 nodes -->
<g id="c-po-oligo"><rect x="153" y="927" width="81" height="15" fill="#93b5b0"/><text class="m" x="197" y="926.5">Oligodendroglioma</text><text class="m" x="197" y="935.5"><tspan class="it">IDH</tspan> MUT &amp; <tspan class="it">TERTp</tspan> MUT</text><text class="m" x="197" y="946">(n=59)</text></g>
<g id="c-po-astro"><rect x="248" y="927" width="83" height="15" fill="#3f6f96"/><text class="m" x="295" y="926.5">Astrocytoma</text><text class="m" x="296" y="935.5"><tspan class="it">IDH</tspan> MUT &amp; <tspan class="it">TERTp</tspan> WT</text><text class="m" x="295" y="946">(n=61)</text></g>
<g id="c-po-gbm"><rect x="346" y="927" width="142" height="15" fill="#fae3e4"/><text class="m" x="413" y="926.5">Glioblastoma</text><text class="m" x="413" y="935.5"><tspan class="it">IDH</tspan> WT &amp;<tspan class="it">TERTp</tspan> MUT</text><text class="m" x="417" y="946">(n=104)</text></g>
<g id="c-po-gbmwt"><rect x="502" y="927" width="36" height="15" fill="#c4687e"/><text class="m" x="522" y="926.5">Glioblastoma</text><text class="m" x="522" y="935.5"><tspan class="it">IDH</tspan> WT</text><text class="m" x="522" y="945">(n=26)</text></g>
<g id="c-po-diffuse"><rect x="553" y="927" width="29" height="15" fill="#f2f2f2"/><text class="m" x="568" y="926.5">Diffuse</text><text class="m" x="568" y="935.5">Glioma</text><text class="m" x="568" y="945">(n=20)</text></g>
<g id="c-po-nondiff"><rect x="595" y="927" width="33" height="15" fill="#888"/><text class="m" x="613" y="926.5">Non-diffuse</text><text class="m" x="613" y="935.5">Glioma</text><text class="m" x="613" y="945">(n=24)</text></g>

<!-- row 4 nodes -->
<g id="c-who-oligo"><rect x="153" y="993" width="84" height="14" fill="#e39e9e"/><text class="m" x="191" y="1018">Oligodendroglioma</text><text class="m" x="191" y="1027"><tspan class="it">IDH</tspan> MUT &amp; 1p/19q-codeleted</text><text class="m" x="191" y="1036">(n=61)</text></g>
<g id="c-who-astro"><rect x="252" y="993" width="83" height="14" fill="#e4b4e6"/><text class="m" x="293" y="1018">Astrocytoma</text><text class="m" x="293" y="1027"><tspan class="it">IDH</tspan> MUT</text><text class="m" x="293" y="1036">(n=60)</text></g>
<g id="c-who-gbm"><rect x="347" y="993" width="181" height="14" fill="#fdb08a"/><text class="m" x="430" y="1018">Glioblastoma</text><text class="m" x="430" y="1027"><tspan class="it">IDH</tspan> WT</text><text class="m" x="430" y="1036">(n=132)</text></g>
<g id="c-who-nec"><rect x="543" y="993" width="9" height="14" fill="#d9d9d9"/><text class="m" x="532" y="1018">Diffuse</text><text class="m" x="532" y="1027">Glioma</text><text class="m" x="532" y="1036">NEC</text><text class="m" x="532" y="1045">(n=7)</text></g>
<g id="c-who-ped"><rect x="568" y="993" width="14" height="14" fill="#b48c9a"/><text class="m" x="582" y="1018">Pediatric-type</text><text class="m" x="582" y="1027">Diffuse</text><text class="m" x="582" y="1036">High-grade</text><text class="m" x="582" y="1045">Glioma (n=10)</text></g>
<g id="c-who-nondiff"><rect x="595" y="993" width="33" height="14" fill="#888"/><text class="m" x="636" y="1018">Non-diffuse</text><text class="m" x="636" y="1027">Glioma</text><text class="m" x="636" y="1036">(n=24)</text></g>

<g id="c-nlabels">
<text class="m" x="248" y="962">n=1</text>
<text class="m" x="502" y="960">n=1</text>
<text class="m" x="548" y="968">n=2</text>
</g>
</svg>
